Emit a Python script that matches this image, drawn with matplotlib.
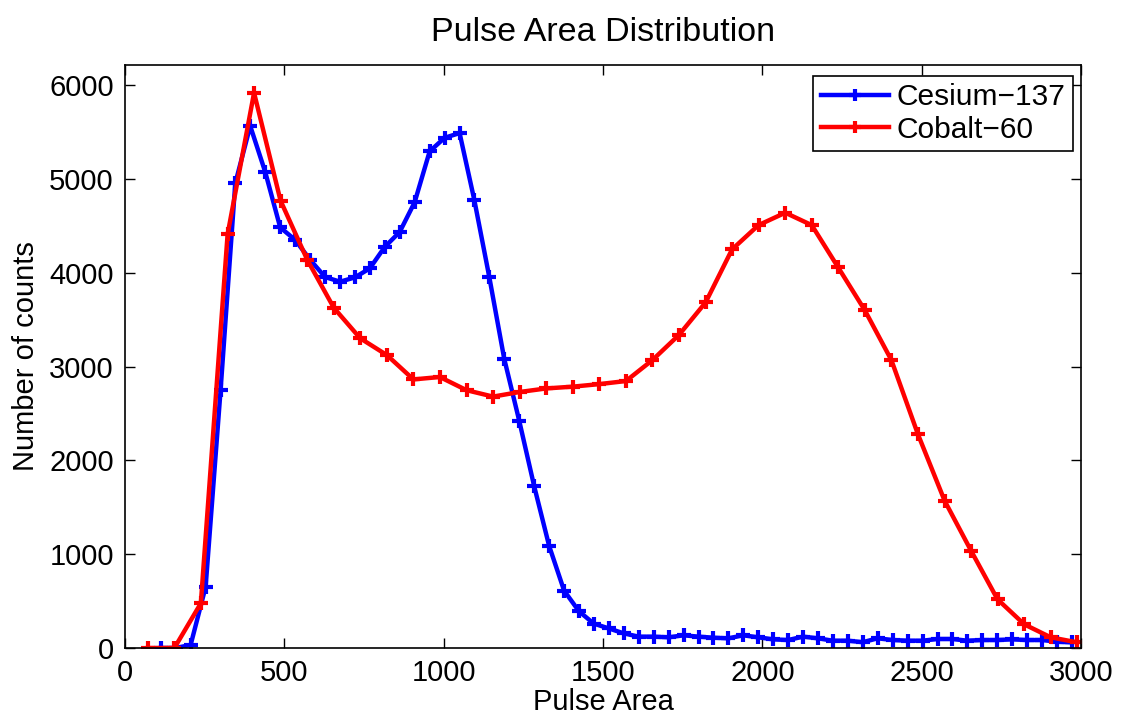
import matplotlib
matplotlib.use("Agg")
import matplotlib.pyplot as plt

plt.rcParams['font.family'] = ['Liberation Sans', 'DejaVu Sans']

# Cesium-137 (blue)
cs_x = [112, 159, 206, 253, 300, 346, 393, 440, 487, 534, 581, 628, 675, 721,
        768, 815, 862, 909, 956, 1003, 1050, 1096, 1143, 1190, 1237, 1284, 1331,
        1378, 1425, 1471, 1518, 1565, 1612, 1659, 1706, 1753, 1800, 1846, 1893,
        1940, 1987, 2034, 2081, 2128, 2175, 2221, 2268, 2315, 2362, 2409, 2456,
        2503, 2550, 2596, 2643, 2690, 2737, 2784, 2831, 2878, 2925, 2971]
cs_y = [0, 0, 33, 652, 2752, 4953, 5565, 5075, 4484, 4350, 4138, 3954, 3905, 3950,
        4046, 4275, 4435, 4752, 5294, 5439, 5489, 4779, 3958, 3084, 2424, 1725, 1088,
        611, 390, 260, 209, 156, 121, 121, 114, 135, 121, 110, 103,
        135, 114, 92, 85, 121, 103, 78, 78, 62, 103, 85, 78,
        78, 96, 96, 78, 85, 85, 92, 85, 85, 67, 60]

# Cobalt-60 (red)
co_x = [72, 155, 238, 322, 405, 488, 572, 655, 738, 822, 905, 988, 1072, 1155,
        1238, 1322, 1405, 1488, 1572, 1655, 1738, 1822, 1905, 1988, 2072, 2155,
        2238, 2322, 2405, 2488, 2572, 2655, 2738, 2822, 2905, 2988]
co_y = [0, 0, 477, 4411, 5919, 4770, 4138, 3628, 3302, 3122, 2863, 2889, 2748, 2680,
        2729, 2767, 2786, 2813, 2846, 3069, 3336, 3684, 4249, 4508, 4640, 4508,
        4057, 3598, 3069, 2281, 1570, 1037, 519, 252, 114, 60]

fig = plt.figure(figsize=(11.22, 7.19), dpi=100)
ax = fig.add_axes([125/1122, 1 - 648/719, (1081 - 125)/1122, (648 - 65)/719])

ax.plot(cs_x, cs_y, '-+', color='#0000ff', lw=3.2, ms=10, mew=3, label='Cesium\u2212137')
ax.plot(co_x, co_y, '-+', color='#ff0000', lw=3.2, ms=10, mew=3, label='Cobalt\u221260')

ax.set_xlim(0, 3000)
ax.set_ylim(0, 1.05 * max(co_y))
ax.set_xticks([0, 500, 1000, 1500, 2000, 2500, 3000])
ax.set_yticks([0, 1000, 2000, 3000, 4000, 5000, 6000])
ax.tick_params(direction='in', length=7, width=1, labelsize=21, top=True, right=True, pad=8)
for s in ax.spines.values():
    s.set_linewidth(1.2)

ax.set_title('Pulse Area Distribution', fontsize=24.5, pad=17)
ax.set_xlabel('Pulse Area', fontsize=21, labelpad=1)
ax.set_ylabel('Number of counts', fontsize=21, labelpad=7)

leg = ax.legend(loc='upper right', bbox_to_anchor=(1073/1122, 1 - 76/719),
                bbox_transform=fig.transFigure, borderaxespad=0, fontsize=21.5,
                fancybox=False, edgecolor='black', framealpha=1,
                handlelength=2.3, handletextpad=0.25, labelspacing=0.15,
                borderpad=0.25, markerscale=0.8)
leg.get_frame().set_linewidth(1.2)

fig.savefig('out.png', dpi=100)
